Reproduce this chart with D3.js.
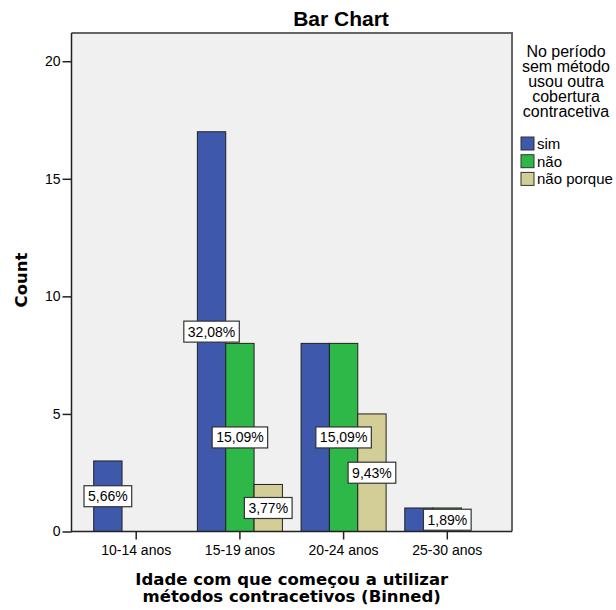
<!DOCTYPE html>
<html>
<head>
<meta charset="utf-8">
<script src="https://cdn.jsdelivr.net/npm/d3@7"></script>
<style>
  body { margin: 0; background: #fff; }
  svg text { font-family: "Liberation Sans", Arial, sans-serif; fill: #000; }
  .bold-title { font-family: "DejaVu Sans", Verdana, sans-serif !important; font-weight: bold; }
</style>
</head>
<body>
<svg id="chart"></svg>
<script>
// data
const categories = ['10-14 anos', '15-19 anos', '20-24 anos', '25-30 anos'];
const seriesNames = ['sim', 'não', 'não porque'];
const simCounts = [3, 17, 8, 1];
const naoCounts = [0, 8, 8, 1];
const naoPorqueCounts = [0, 2, 5, 0];
const yTicks = [0, 5, 10, 15, 20];
const legendTitle = ['No período', 'sem método', 'usou outra', 'cobertura', 'contracetiva'];
const xTitle = ['Idade com que começou a utilizar', 'métodos contracetivos (Binned)'];

const colors = d3.scaleOrdinal()
    .domain(seriesNames)
    .range(['#3e58ac', '#2eb848', '#d3ce97']);

const counts = [simCounts, naoCounts, naoPorqueCounts];
const total = d3.sum(counts.flat());

let bars = [];
categories.forEach((c, i) => {
  seriesNames.forEach((s, j) => {
    bars.push({cat: c, series: s, value: counts[j][i]});
  });
});

const W = 616, H = 610;
const plot = {left: 71.5, right: 512, top: 33, bottom: 531.5};

const svg = d3.select('#chart').attr('width', W).attr('height', H);

// Scales
const x0 = d3.scaleBand()
    .domain(categories)
    .range([plot.left, plot.right])
    .paddingInner(0.18)
    .paddingOuter(0.214);

const x1 = d3.scaleBand()
    .domain(seriesNames)
    .range([0, x0.bandwidth()]);

const yScale = d3.scaleLinear()
    .domain([0, 21.2])
    .range([plot.bottom, plot.top]);

// plot background
svg.append('rect')
    .attr('x', plot.left)
    .attr('y', plot.top)
    .attr('width', plot.right - plot.left)
    .attr('height', plot.bottom - plot.top)
    .attr('fill', '#f0f0f0');

// bars
svg.append('g').selectAll('rect')
  .data(bars.filter(d => d.value > 0))
  .join('rect')
    .attr('x', d => x0(d.cat) + x1(d.series))
    .attr('y', d => yScale(d.value))
    .attr('width', x1.bandwidth())
    .attr('height', d => yScale(0) - yScale(d.value))
    .attr('fill', d => colors(d.series))
    .attr('stroke', '#222')
    .attr('stroke-width', 1);

// frame top/right
svg.append('path')
    .attr('d', `M${plot.left},${plot.top}H${plot.right}V${plot.bottom}`)
    .attr('fill', 'none')
    .attr('stroke', '#666')
    .attr('stroke-width', 2);

// axes
const yAxis = d3.axisLeft(yScale).tickValues(yTicks).tickSize(9).tickPadding(2);
const yAxisG = svg.append('g')
    .attr('transform', `translate(${plot.left},0)`)
    .call(yAxis);
yAxisG.select('.domain').remove();
yAxisG.selectAll('text').style('font-size', '14px').attr('font-family', null);
yAxisG.selectAll('line').attr('stroke', '#222').attr('stroke-width', 1.5);

const xAxis = d3.axisBottom(x0).tickSize(8).tickPadding(6);
const xAxisG = svg.append('g')
    .attr('transform', `translate(0,${plot.bottom})`)
    .call(xAxis);
xAxisG.select('.domain').remove();
xAxisG.selectAll('text').style('font-size', '14px').attr('font-family', null);
xAxisG.selectAll('line').attr('stroke', '#222').attr('stroke-width', 1.5);

// axis lines
svg.append('path')
    .attr('d', `M${plot.left},${plot.top}V${plot.bottom}H${plot.right}`)
    .attr('fill', 'none')
    .attr('stroke', '#222')
    .attr('stroke-width', 1.5);

// percentage labels - later labels win, overlapped earlier ones are dropped (like spss)
const fmt = v => (v / total * 100).toFixed(2).replace('.', ',') + '%';
const labelLayer = svg.append('g');
let placed = [];
bars.filter(d => d.value > 0).reverse().forEach(d => {
  const cx = x0(d.cat) + x1(d.series) + x1.bandwidth() / 2;
  const cy = (yScale(d.value) + yScale(0)) / 2;
  const g = labelLayer.append('g').attr('transform', `translate(${cx},${cy})`);
  const t = g.append('text')
      .attr('text-anchor', 'middle')
      .attr('dy', '0.36em')
      .style('font-size', '14px')
      .text(fmt(d.value));
  const bb = t.node().getBBox();
  const box = {x: cx + bb.x - 4, y: cy - 10.5, w: bb.width + 8, h: 21};
  const hit = placed.some(p => box.x < p.x + p.w && p.x < box.x + box.w && box.y < p.y + p.h && p.y < box.y + box.h);
  if (hit) { g.remove(); return; }
  placed.push(box);
  g.insert('rect', 'text')
      .attr('x', bb.x - 4)
      .attr('y', -10.5)
      .attr('width', bb.width + 8)
      .attr('height', 21)
      .attr('fill', '#fff')
      .attr('stroke', '#333')
      .attr('stroke-width', 1.2);
});

// titles
svg.append('text')
    .attr('x', 341)
    .attr('y', 26)
    .attr('text-anchor', 'middle')
    .style('font-size', '21px')
    .style('font-weight', 'bold')
    .text('Bar Chart');

svg.append('text')
    .attr('class', 'bold-title')
    .attr('transform', 'translate(27,280) rotate(-90)')
    .attr('text-anchor', 'middle')
    .style('font-size', '16.5px')
    .text('Count');

svg.append('g').selectAll('text')
  .data(xTitle)
  .join('text')
    .attr('class', 'bold-title')
    .attr('x', (plot.left + plot.right) / 2)
    .attr('y', (d, i) => 585 + i * 17)
    .attr('text-anchor', 'middle')
    .style('font-size', '16.5px')
    .text(d => d);

// legend
const legend = svg.append('g');
legend.selectAll('text.lt')
  .data(legendTitle)
  .join('text')
    .attr('class', 'lt')
    .attr('x', 566)
    .attr('y', (d, i) => 56.5 + i * 15)
    .attr('text-anchor', 'middle')
    .style('font-size', '16px')
    .text(d => d);

const items = legend.selectAll('g.item')
  .data(seriesNames)
  .join('g')
    .attr('class', 'item')
    .attr('transform', (d, i) => `translate(521,${137 + i * 17.7})`);

items.append('rect')
    .attr('width', 13)
    .attr('height', 13)
    .attr('fill', d => colors(d))
    .attr('stroke', '#333')
    .attr('stroke-width', 1);

items.append('text')
    .attr('x', 16)
    .attr('y', 12)
    .style('font-size', '15px')
    .text(d => d);
</script>
</body>
</html>
